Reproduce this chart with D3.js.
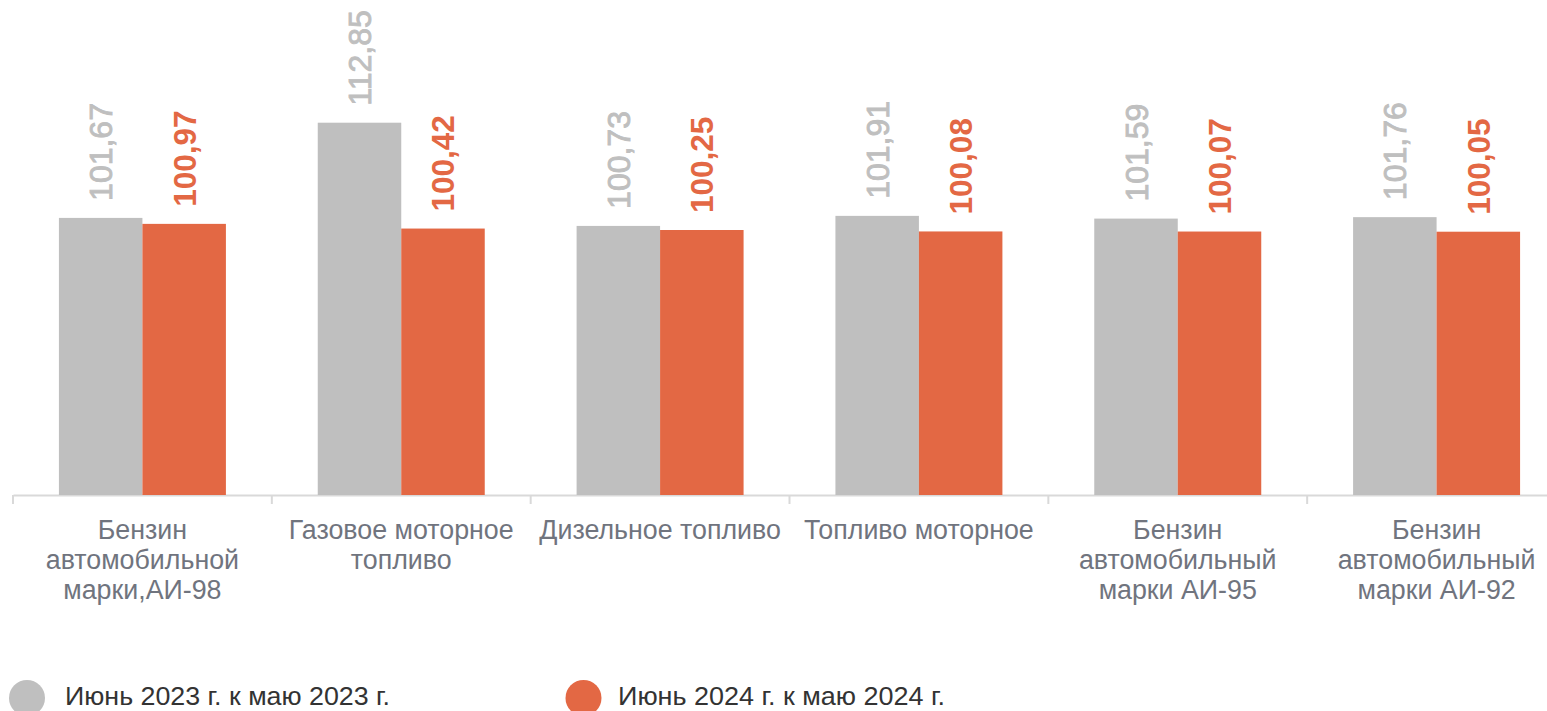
<!DOCTYPE html>
<html>
<head>
<meta charset="utf-8">
<script src="https://cdn.jsdelivr.net/npm/d3@7"></script>
<style>
  html, body { margin: 0; padding: 0; background: #ffffff; }
  svg { display: block; }
  text { font-family: "Liberation Sans", Arial, sans-serif; }
</style>
</head>
<body>
<svg id="chart" width="1547" height="711"></svg>
<script>
// ---- Data ----
const categories = [
  ["Бензин", "автомобильной", "марки,АИ-98"],
  ["Газовое моторное", "топливо"],
  ["Дизельное топливо"],
  ["Топливо моторное"],
  ["Бензин", "автомобильный", "марки АИ-95"],
  ["Бензин", "автомобильный", "марки АИ-92"]
];
const seriesNames = ["Июнь 2023 г. к маю 2023 г.", "Июнь 2024 г. к маю 2024 г."];
const values2023 = [101.67, 112.85, 100.73, 101.91, 101.59, 101.76];
const values2024 = [100.97, 100.42, 100.25, 100.08, 100.07, 100.05];
const seriesColors = ["#bfbfbf", "#e36844"];

// ---- Layout ----
const svg = d3.select("#chart");
const baseY = 495;
const x0 = d3.scaleBand().domain(d3.range(categories.length)).range([13, 1566]).paddingInner(0).paddingOuter(0);
const x1 = d3.scaleBand().domain([0, 1]).range([0, x0.bandwidth()]).paddingInner(0).paddingOuter(0.55);
const y = d3.scaleLinear().domain([69.13, 127.26]).range([baseY, 0]);

const series = [values2023, values2024];

// Axis
const axis = d3.axisBottom(x0).tickSizeInner(0).tickSizeOuter(0).tickFormat("");
const gAxis = svg.append("g").attr("transform", `translate(0,${baseY})`).call(axis);
gAxis.select(".domain").attr("stroke", "#d9d9d9").attr("stroke-width", 2);
// boundary ticks
const boundaries = d3.range(categories.length + 1).map(i => 13 + i * x0.step());
gAxis.selectAll("line.bt").data(boundaries).enter().append("line")
  .attr("class", "bt")
  .attr("x1", d => d).attr("x2", d => d)
  .attr("y1", 0).attr("y2", 9)
  .attr("stroke", "#d9d9d9").attr("stroke-width", 2);

// Bars
series.forEach((vals, s) => {
  const g = svg.append("g");
  g.selectAll("rect").data(vals).enter().append("rect")
    .attr("x", (d, i) => x0(i) + x1(s))
    .attr("y", d => y(d))
    .attr("width", x1.bandwidth())
    .attr("height", d => baseY - y(d))
    .attr("fill", seriesColors[s]);
  g.selectAll("text").data(vals).enter().append("text")
    .attr("transform", (d, i) => `translate(${x0(i) + x1(s) + x1.bandwidth() / 2},${y(d) - 17}) rotate(-90)`)
    .attr("dy", "0.36em")
    .attr("text-anchor", "start")
    .attr("font-size", s === 0 ? 32 : 31.5)
    .attr("font-weight", s === 0 ? "normal" : "bold")
    .attr("fill", seriesColors[s])
    .attr("stroke", s === 0 ? seriesColors[0] : "none")
    .attr("stroke-width", s === 0 ? 0.9 : 0)
    .text(d => d.toFixed(2).replace(".", ","));
});

// Category labels
const gl = svg.append("g");
categories.forEach((lines, i) => {
  const t = gl.append("text")
    .attr("text-anchor", "middle")
    .attr("font-size", 26.8)
    .attr("fill", "#70747e");
  lines.forEach((ln, j) => {
    t.append("tspan")
      .attr("x", x0(i) + x0.bandwidth() / 2)
      .attr("y", 539 + j * 30)
      .text(ln);
  });
});

// Legend
const legendCx = [27, 583.5];
const legendTx = [65, 618];
const legendW = [325, 327];
seriesNames.forEach((name, s) => {
  svg.append("circle").attr("cx", legendCx[s]).attr("cy", 698).attr("r", 18).attr("fill", seriesColors[s]);
  svg.append("text")
    .attr("x", legendTx[s])
    .attr("y", 705)
    .attr("font-size", 25.5)
    .attr("textLength", legendW[s])
    .attr("lengthAdjust", "spacingAndGlyphs")
    .attr("fill", "#333333")
    .text(name);
});
</script>
</body>
</html>
